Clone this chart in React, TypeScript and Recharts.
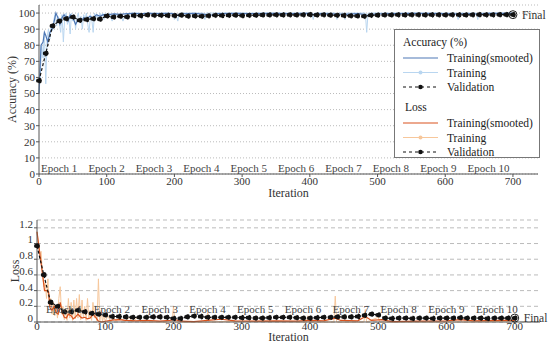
import {
  ComposedChart,
  Line,
  XAxis,
  YAxis,
  CartesianGrid,
  ReferenceLine,
  ReferenceDot,
  Legend,
  Label
} from 'recharts';

const FONT = 'Liberation Serif, DejaVu Serif, serif';

const ITER_TICKS = [0, 100, 200, 300, 400, 500, 600, 700];
const ACC_TICKS = [0, 10, 20, 30, 40, 50, 60, 70, 80, 90, 100];
const LOSS_TICKS = [0, 0.2, 0.4, 0.6, 0.8, 1, 1.2];

const EPOCH_NAMES = ['Epoch 1', 'Epoch 2', 'Epoch 3', 'Epoch 4', 'Epoch 5', 'Epoch 6', 'Epoch 7', 'Epoch 8', 'Epoch 9', 'Epoch 10'];
const EPOCH_STARTS = [0, 70, 140, 210, 280, 350, 420, 490, 560, 630];

const LEGEND_GROUPS = ['Accuracy (%)', 'Loss'];
const LEGEND_ITEMS = ['Training(smooted)', 'Training', 'Validation'];

// validation is evaluated every 10 iterations
const VAL_STEP = 10;

const accValidation = [
  58, 75, 92, 95, 96.5, 97.5, 95.5, 96, 96.5, 96.2,
  98.2, 97.5, 98, 97.6, 98.5, 98.4, 98.8, 98.6, 98.6, 98.5,
  98.4, 98.7, 98.1, 98.2, 98, 98.3, 98.6, 98.5, 98.6, 98.7,
  98.4, 98.6, 98.7, 98.8, 98.8, 98.9, 98.8, 98.9, 98.8, 98.9,
  99, 98.8, 98.9, 98.7, 98.6, 98.5, 98.3, 98.2, 98, 98.6,
  98.7, 98.8, 98.8, 98.9, 98.8, 98.9, 98.9, 98.8, 98.9, 98.9,
  98.8, 98.9, 98.9, 98.8, 98.9, 99, 98.9, 98.9, 99, 99, 99
];

const lossValidation = [
  0.97, 0.6, 0.25, 0.2, 0.13, 0.13, 0.15, 0.13, 0.11, 0.1,
  0.09, 0.07, 0.07, 0.065, 0.06, 0.06, 0.06, 0.065, 0.065, 0.06,
  0.045, 0.045, 0.065, 0.075, 0.07, 0.06, 0.06, 0.06, 0.06, 0.06,
  0.055, 0.055, 0.05, 0.05, 0.055, 0.06, 0.06, 0.06, 0.055, 0.05,
  0.05, 0.055, 0.06, 0.06, 0.065, 0.065, 0.065, 0.07, 0.085, 0.1,
  0.09, 0.05, 0.045, 0.05, 0.05, 0.045, 0.05, 0.05, 0.045, 0.05,
  0.05, 0.05, 0.055, 0.05, 0.05, 0.05, 0.045, 0.05, 0.05, 0.05, 0.05
];

// [iteration, value]
const accTrainSmooth: [number, number][] = [
  [0, 50], [3, 80], [6, 82], [8, 88], [10, 86], [13, 82], [16, 88], [19, 90], [22, 94], [25, 100],
  [28, 97], [31, 93], [34, 97], [37, 99], [40, 97], [43, 95], [46, 99], [50, 97], [54, 93], [58, 96],
  [62, 95], [66, 97], [70, 96], [75, 98], [80, 97], [85, 99], [90, 98], [95, 99], [100, 98.8],
  [110, 99.5], [120, 99.2], [130, 99.6], [140, 99.8], [150, 99.5], [160, 99.8], [175, 99.6], [190, 99.8],
  [200, 99.5], [205, 98.6], [212, 99.5], [230, 99.8], [245, 99.2], [255, 98.8], [265, 99.6], [290, 99.8],
  [310, 99.6], [340, 99.8], [370, 99.7], [400, 99.8], [405, 99.2], [415, 99.7], [440, 99.3], [452, 99.2],
  [470, 99.6], [480, 99.2], [486, 98.4], [495, 99.4], [520, 99.7], [560, 99.8], [600, 99.7], [619, 99.3],
  [630, 99.7], [648, 99.4], [665, 99.8], [700, 99.8]
];

const accTrainRaw: [number, number][] = [
  [0, 50], [2, 62], [4, 80], [6, 72], [8, 88], [10, 56], [12, 85], [14, 90], [16, 84], [18, 93],
  [20, 89], [22, 96], [24, 100], [26, 92], [28, 98], [30, 94], [32, 88], [34, 99], [36, 82], [38, 97],
  [40, 100], [42, 93], [44, 98], [46, 87], [48, 100], [50, 95], [52, 99], [54, 90], [56, 97], [58, 100],
  [60, 94], [62, 98], [64, 90], [66, 99], [68, 96], [70, 100], [72, 93], [74, 88], [76, 99], [78, 96],
  [80, 88], [82, 100], [84, 97], [86, 99], [88, 95], [90, 100], [92, 98], [94, 100], [96, 96], [98, 100],
  [100, 97], [104, 100], [108, 95], [112, 100], [116, 98], [120, 100], [124, 95], [128, 100], [132, 99],
  [136, 100], [150, 100], [152, 96], [154, 100], [198, 100], [200, 96], [202, 100], [205, 95], [207, 100],
  [243, 100], [245, 96], [247, 100], [403, 100], [405, 96], [407, 100], [438, 100], [440, 96], [442, 100],
  [450, 100], [452, 96], [454, 100], [482, 100], [484, 88], [486, 100], [617, 100], [619, 96], [621, 100],
  [646, 100], [648, 96], [650, 100], [700, 100]
];

const lossTrainSmooth: [number, number][] = [
  [0, 1.15], [3, 0.95], [6, 0.75], [9, 0.55], [11, 0.4], [14, 0.4], [17, 0.38], [19, 0.18], [22, 0.15],
  [25, 0.2], [28, 0.12], [31, 0.1], [34, 0.25], [37, 0.12], [40, 0.06], [43, 0.05], [46, 0.1], [50, 0.08],
  [53, 0.04], [56, 0.06], [60, 0.1], [63, 0.07], [66, 0.05], [70, 0.06], [74, 0.04], [78, 0.05], [82, 0.1],
  [86, 0.06], [90, 0.01], [95, 0], [100, 0.01], [110, 0.025], [120, 0.03], [130, 0.02], [145, 0.015],
  [160, 0.02], [180, 0.01], [195, 0.02], [200, 0.035], [210, 0.01], [230, 0.005], [250, 0.02], [270, 0.035],
  [290, 0.015], [320, 0.01], [350, 0.015], [380, 0.01], [400, 0.02], [420, 0.015], [437, 0.05], [445, 0.02],
  [470, 0.015], [481, 0.07], [490, 0.02], [505, 0.03], [520, 0.005], [560, 0.01], [600, 0.015], [620, 0.03],
  [640, 0.015], [680, 0.02], [700, 0.02]
];

const lossTrainRaw: [number, number][] = [
  [0, 1.15], [2, 1.0], [4, 0.85], [6, 0.9], [8, 0.6], [10, 0.45], [12, 0.5], [14, 0.3], [16, 0.55], [18, 0.2],
  [20, 0.3], [22, 0.1], [24, 0.25], [26, 0.08], [28, 0.2], [30, 0.05], [32, 0.3], [34, 0.45], [36, 0.1],
  [38, 0.2], [40, 0.03], [42, 0.15], [44, 0.02], [46, 0.3], [48, 0.05], [50, 0.25], [52, 0.02], [54, 0.28],
  [56, 0.04], [58, 0.3], [60, 0.05], [62, 0.35], [64, 0.03], [66, 0.28], [68, 0.05], [70, 0.2], [72, 0.02],
  [74, 0.3], [76, 0.04], [78, 0.15], [80, 0.02], [82, 0.25], [84, 0.05], [86, 0.1], [88, 0.01], [90, 0.55],
  [92, 0.01], [94, 0.15], [96, 0], [98, 0.1], [100, 0.01], [104, 0.08], [108, 0], [112, 0.06], [116, 0.01],
  [120, 0.05], [130, 0.01], [135, 0.06], [140, 0], [150, 0.08], [152, 0], [198, 0], [200, 0.2], [202, 0],
  [248, 0], [250, 0.12], [252, 0], [300, 0.01], [395, 0], [397, 0.08], [399, 0], [435, 0], [437, 0.33],
  [439, 0], [479, 0], [481, 0.16], [483, 0], [500, 0.06], [502, 0], [618, 0], [620, 0.06], [622, 0], [700, 0.01]
];

const toPoints = (pairs: [number, number][]) => pairs.map(([x, y]) => ({ x, y }));
const toValPoints = (vals: number[]) => vals.map((y, i) => ({ x: i * VAL_STEP, y }));

const COLORS = {
  accSmooth: '#4f78b5',
  accRaw: '#b9d6f0',
  lossSmooth: '#d9531e',
  lossRaw: '#f7c79b',
  val: '#111111'
};

const tickStyle = { fontSize: 11, fill: '#333', fontFamily: FONT };

function TrainingLegend() {
  const groupColors = [
    [COLORS.accSmooth, COLORS.accRaw],
    [COLORS.lossSmooth, COLORS.lossRaw]
  ];
  return (
    <svg width={146} height={129} style={{ display: 'block' }}>
      <rect x={0.5} y={0.5} width={145} height={128} fill="#fff" stroke="#777" />
      {LEGEND_GROUPS.map((group, g) => {
        const top = g * 65;
        return (
          <g key={group} fontFamily={FONT} fontSize={11.5} fill="#222">
            <text x={g === 0 ? 9 : 11} y={top + 17}>{group}</text>
            {LEGEND_ITEMS.map((item, i) => {
              const y = top + 29 + i * 14.5;
              return (
                <g key={item}>
                  {i === 0 && <line x1={9} x2={44} y1={y} y2={y} stroke={groupColors[g][0]} strokeWidth={1.2} />}
                  {i === 1 && (
                    <>
                      <line x1={9} x2={44} y1={y} y2={y} stroke={groupColors[g][1]} strokeWidth={1.2} />
                      <circle cx={26.5} cy={y} r={2} fill={groupColors[g][1]} />
                    </>
                  )}
                  {i === 2 && (
                    <>
                      <line x1={9} x2={44} y1={y} y2={y} stroke={COLORS.val} strokeDasharray="3 3" />
                      <circle cx={26.5} cy={y} r={2.3} fill={COLORS.val} />
                    </>
                  )}
                  <text x={53} y={y + 4}>{item}</text>
                </g>
              );
            })}
          </g>
        );
      })}
    </svg>
  );
}

function epochMarks(offset: number) {
  return EPOCH_STARTS.map((start, i) => (
    <ReferenceLine
      key={EPOCH_NAMES[i]}
      x={start}
      stroke="none"
      label={{ value: EPOCH_NAMES[i], position: 'insideBottomLeft', offset, fontSize: 11, fill: '#444', fontFamily: FONT }}
    />
  ));
}

export default function App() {
  const accVal = toValPoints(accValidation);
  const lossVal = toValPoints(lossValidation);

  return (
    <div style={{ position: 'absolute', left: 0, top: 0, width: 550, height: 343, background: '#fff' }}>
      <ComposedChart width={550} height={200} margin={{ top: 5, right: 12, left: 0, bottom: 2 }}>
        <CartesianGrid horizontal vertical={false} stroke="#bbb" strokeDasharray="1 2" />
        <XAxis
          type="number"
          dataKey="x"
          domain={[0, 737]}
          ticks={ITER_TICKS}
          interval={0}
          height={24}
          tick={tickStyle}
          tickSize={3}
          tickMargin={0}
          stroke="#555"
        >
          <Label value="Iteration" position="insideBottom" offset={1} style={{ fontSize: 12, fill: '#333', fontFamily: FONT }} />
        </XAxis>
        <YAxis
          type="number"
          dataKey="y"
          domain={[0, 105]}
          ticks={ACC_TICKS}
          interval={0}
          width={39}
          tick={tickStyle}
          tickSize={3}
          tickMargin={1}
          stroke="#555"
        >
          <Label value="Accuracy (%)" angle={-90} position="insideLeft" offset={12} style={{ fontSize: 12, fill: '#333', fontFamily: FONT, textAnchor: 'middle' }} />
        </YAxis>
        {epochMarks(2)}
        <Line data={toPoints(accTrainRaw)} dataKey="y" stroke={COLORS.accRaw} strokeWidth={1} dot={false} isAnimationActive={false} />
        <Line data={toPoints(accTrainSmooth)} dataKey="y" stroke={COLORS.accSmooth} strokeWidth={1.2} dot={false} isAnimationActive={false} />
        <Line
          data={accVal}
          dataKey="y"
          stroke={COLORS.val}
          strokeWidth={1.2}
          strokeDasharray="3 2"
          dot={{ r: 2.3, fill: COLORS.val, stroke: COLORS.val }}
          isAnimationActive={false}
        />
        <ReferenceDot
          x={700}
          y={accValidation[accValidation.length - 1]}
          r={4}
          fill="none"
          stroke="#222"
          label={{ value: 'Final', position: 'right', offset: 5, fontSize: 11.5, fill: '#333', fontFamily: FONT }}
        />
        <Legend
          layout="vertical"
          align="center"
          verticalAlign="middle"
          content={() => <TrainingLegend />}
          wrapperStyle={{ left: 394, top: 29, width: 146, height: 129 }}
        />
      </ComposedChart>

      <div style={{ position: 'absolute', left: 0, top: 208 }}>
        <ComposedChart width={550} height={135} margin={{ top: 12, right: 10, left: 0, bottom: 0 }}>
          <CartesianGrid horizontal vertical={false} stroke="#bbb" strokeDasharray="4 3" />
          <XAxis
            type="number"
            dataKey="x"
            domain={[0, 737]}
            ticks={ITER_TICKS}
            interval={0}
            height={21}
            tick={{ ...tickStyle, dy: -2 }}
            tickSize={2}
            tickMargin={0}
            stroke="#555"
          >
            <Label value="Iteration" position="insideBottom" offset={2} style={{ fontSize: 12, fill: '#333', fontFamily: FONT }} />
          </XAxis>
          <YAxis
            type="number"
            dataKey="y"
            domain={[0, 1.3]}
            ticks={LOSS_TICKS}
            interval={0}
            width={37}
            tick={{ ...tickStyle, dy: -4 }}
            tickSize={3}
            tickMargin={1}
            stroke="#555"
          >
            <Label value="Loss" angle={-90} position="insideLeft" offset={15} style={{ fontSize: 12, fill: '#333', fontFamily: FONT, textAnchor: 'middle' }} />
          </YAxis>
          {epochMarks(9)}
          <Line data={toPoints(lossTrainRaw)} dataKey="y" stroke={COLORS.lossRaw} strokeWidth={1} dot={false} isAnimationActive={false} />
          <Line data={toPoints(lossTrainSmooth)} dataKey="y" stroke={COLORS.lossSmooth} strokeWidth={1.2} dot={false} isAnimationActive={false} />
          <Line
            data={lossVal}
            dataKey="y"
            stroke={COLORS.val}
            strokeWidth={1.2}
            strokeDasharray="3 2"
            dot={{ r: 2.3, fill: COLORS.val, stroke: COLORS.val }}
            isAnimationActive={false}
          />
          <ReferenceDot
            x={700}
            y={lossValidation[lossValidation.length - 1]}
            r={4}
            fill="none"
            stroke="#222"
            label={{ value: 'Final', position: 'right', offset: 5, fontSize: 11.5, fill: '#333', fontFamily: FONT }}
          />
        </ComposedChart>
      </div>
    </div>
  );
}
